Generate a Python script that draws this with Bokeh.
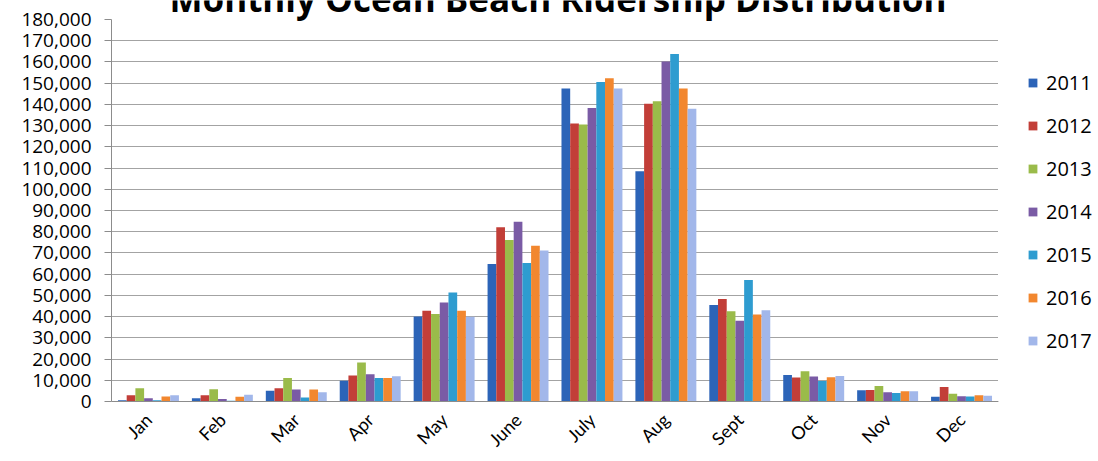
import math
from bokeh.plotting import figure
from bokeh.layouts import row
from bokeh.models import (FactorRange, Range1d, ColumnDataSource, Legend, LegendItem,
                          Label, NumeralTickFormatter, SingleIntervalTicker)
from bokeh.transform import dodge
from bokeh.embed import file_html
from bokeh.resources import INLINE

months = ["Jan", "Feb", "Mar", "Apr", "May", "June", "July", "Aug", "Sept", "Oct", "Nov", "Dec"]
years = ["2011", "2012", "2013", "2014", "2015", "2016", "2017"]

y2011 = [600, 1500, 5100, 9800, 40100, 64800, 147500, 108500, 45500, 12500, 5300, 2200]
y2012 = [2900, 3000, 6200, 12200, 42800, 82100, 131000, 140300, 48300, 11300, 5400, 6800]
y2013 = [6300, 5800, 11100, 18400, 41200, 76100, 130500, 141500, 42500, 14300, 7300, 3700]
y2014 = [1500, 1200, 5600, 12800, 46700, 84700, 138300, 160200, 38000, 11800, 4300, 2500]
y2015 = [600, 300, 1900, 11100, 51400, 65300, 150500, 163700, 57300, 9700, 4000, 2400]
y2016 = [2400, 2200, 5700, 11100, 42800, 73400, 152300, 147500, 41000, 11400, 4800, 2900]
y2017 = [3000, 3200, 4400, 11900, 39900, 71100, 147500, 137900, 43000, 12000, 4800, 2700]

colors = ["#2C64B8", "#C23E38", "#9ABB4A", "#7A5BA5", "#2E9CD0", "#F2872F", "#A2B7EA"]
title_text = "Monthly Ocean Beach Ridership Distribution"

series = [y2011, y2012, y2013, y2014, y2015, y2016, y2017]
data = {"month": months}
for yr, vals in zip(years, series):
    data["y" + yr] = vals
src = ColumnDataSource(data)

FONT = "Open Sans"

p = figure(width=998, height=461,
           x_range=FactorRange(*months), y_range=Range1d(0, 180000),
           output_backend="svg", toolbar_location=None,
           min_border_left=111, min_border_right=0,
           min_border_top=19, min_border_bottom=60)
p.outline_line_color = None
p.background_fill_color = "white"

bw = 0.1178
for i, (yr, c) in enumerate(zip(years, colors)):
    p.vbar(x=dodge("month", (i - 3) * bw, range=p.x_range), top="y" + yr,
           width=bw, source=src, fill_color=c, line_color=None)

# axes
p.yaxis.ticker = SingleIntervalTicker(interval=10000, num_minor_ticks=0)
p.yaxis.formatter = NumeralTickFormatter(format="0,0")
p.yaxis.major_label_text_font = FONT
p.yaxis.major_label_text_font_size = "19px"
p.yaxis.major_label_text_color = "black"
p.yaxis.axis_line_color = "#8c8c8c"
p.yaxis.major_tick_line_color = "#8c8c8c"
p.yaxis.major_tick_out = 7
p.yaxis.major_tick_in = 0
p.yaxis.minor_tick_line_color = None
p.yaxis.major_label_standoff = 13

p.xaxis.major_label_orientation = math.pi / 4
p.xaxis.major_label_text_font = "Lato"
p.xaxis.major_label_text_font_size = "18px"
p.xaxis.major_label_text_color = "black"
p.xaxis.axis_line_color = "#8c8c8c"
p.xaxis.major_tick_line_color = None
p.xaxis.major_tick_out = 4
p.xaxis.major_tick_in = 0
p.xaxis.minor_tick_line_color = None
p.xaxis.major_label_standoff = 11

p.xgrid.grid_line_color = None
p.ygrid.grid_line_color = "#a3a3a3"
p.ygrid.grid_line_width = 1

# legend panel on the right (dummy bars lie outside its visible range)
p2 = figure(width=100, height=461, x_range=Range1d(0, 1), y_range=Range1d(0, 1),
            output_backend="svg", toolbar_location=None, min_border=0,
            x_axis_location=None, y_axis_location=None)
p2.outline_line_color = None
p2.xgrid.visible = False
p2.ygrid.visible = False
items = []
for yr, c in zip(years, colors):
    r = p2.vbar(x=[-10], top=[-5], bottom=[-6], width=0.1, fill_color=c, line_color=None)
    items.append(LegendItem(label=yr, renderers=[r]))

legend = Legend(items=items, location=(29, 47), orientation="vertical",
                glyph_width=11, glyph_height=11, label_height=27,
                spacing=16, padding=0, margin=0, label_standoff=8,
                label_text_font=FONT, label_text_font_size="20px",
                label_text_color="black",
                border_line_color=None, background_fill_alpha=0)
p2.add_layout(legend, "center")

layout = row(p, p2)

# transparent title strip laid over the top of the chart (cut at the top, as in the original)
p0 = figure(width=1098, height=24, x_range=Range1d(0, 1098), y_range=Range1d(0, 24),
            output_backend="svg", toolbar_location=None, min_border=0,
            x_axis_location=None, y_axis_location=None)
p0.outline_line_color = None
p0.xgrid.visible = False
p0.ygrid.visible = False
p0.background_fill_alpha = 0
p0.border_fill_alpha = 0
p0.styles = {"margin-top": "-461px"}
title = Label(x=557.5, y=26.5, text=title_text, text_align="center",
              text_baseline="middle", text_font=FONT, text_font_style="bold",
              text_font_size="35px", text_color="black")
p0.add_layout(title)

open("out.html", "w").write(file_html([layout, p0], INLINE))
